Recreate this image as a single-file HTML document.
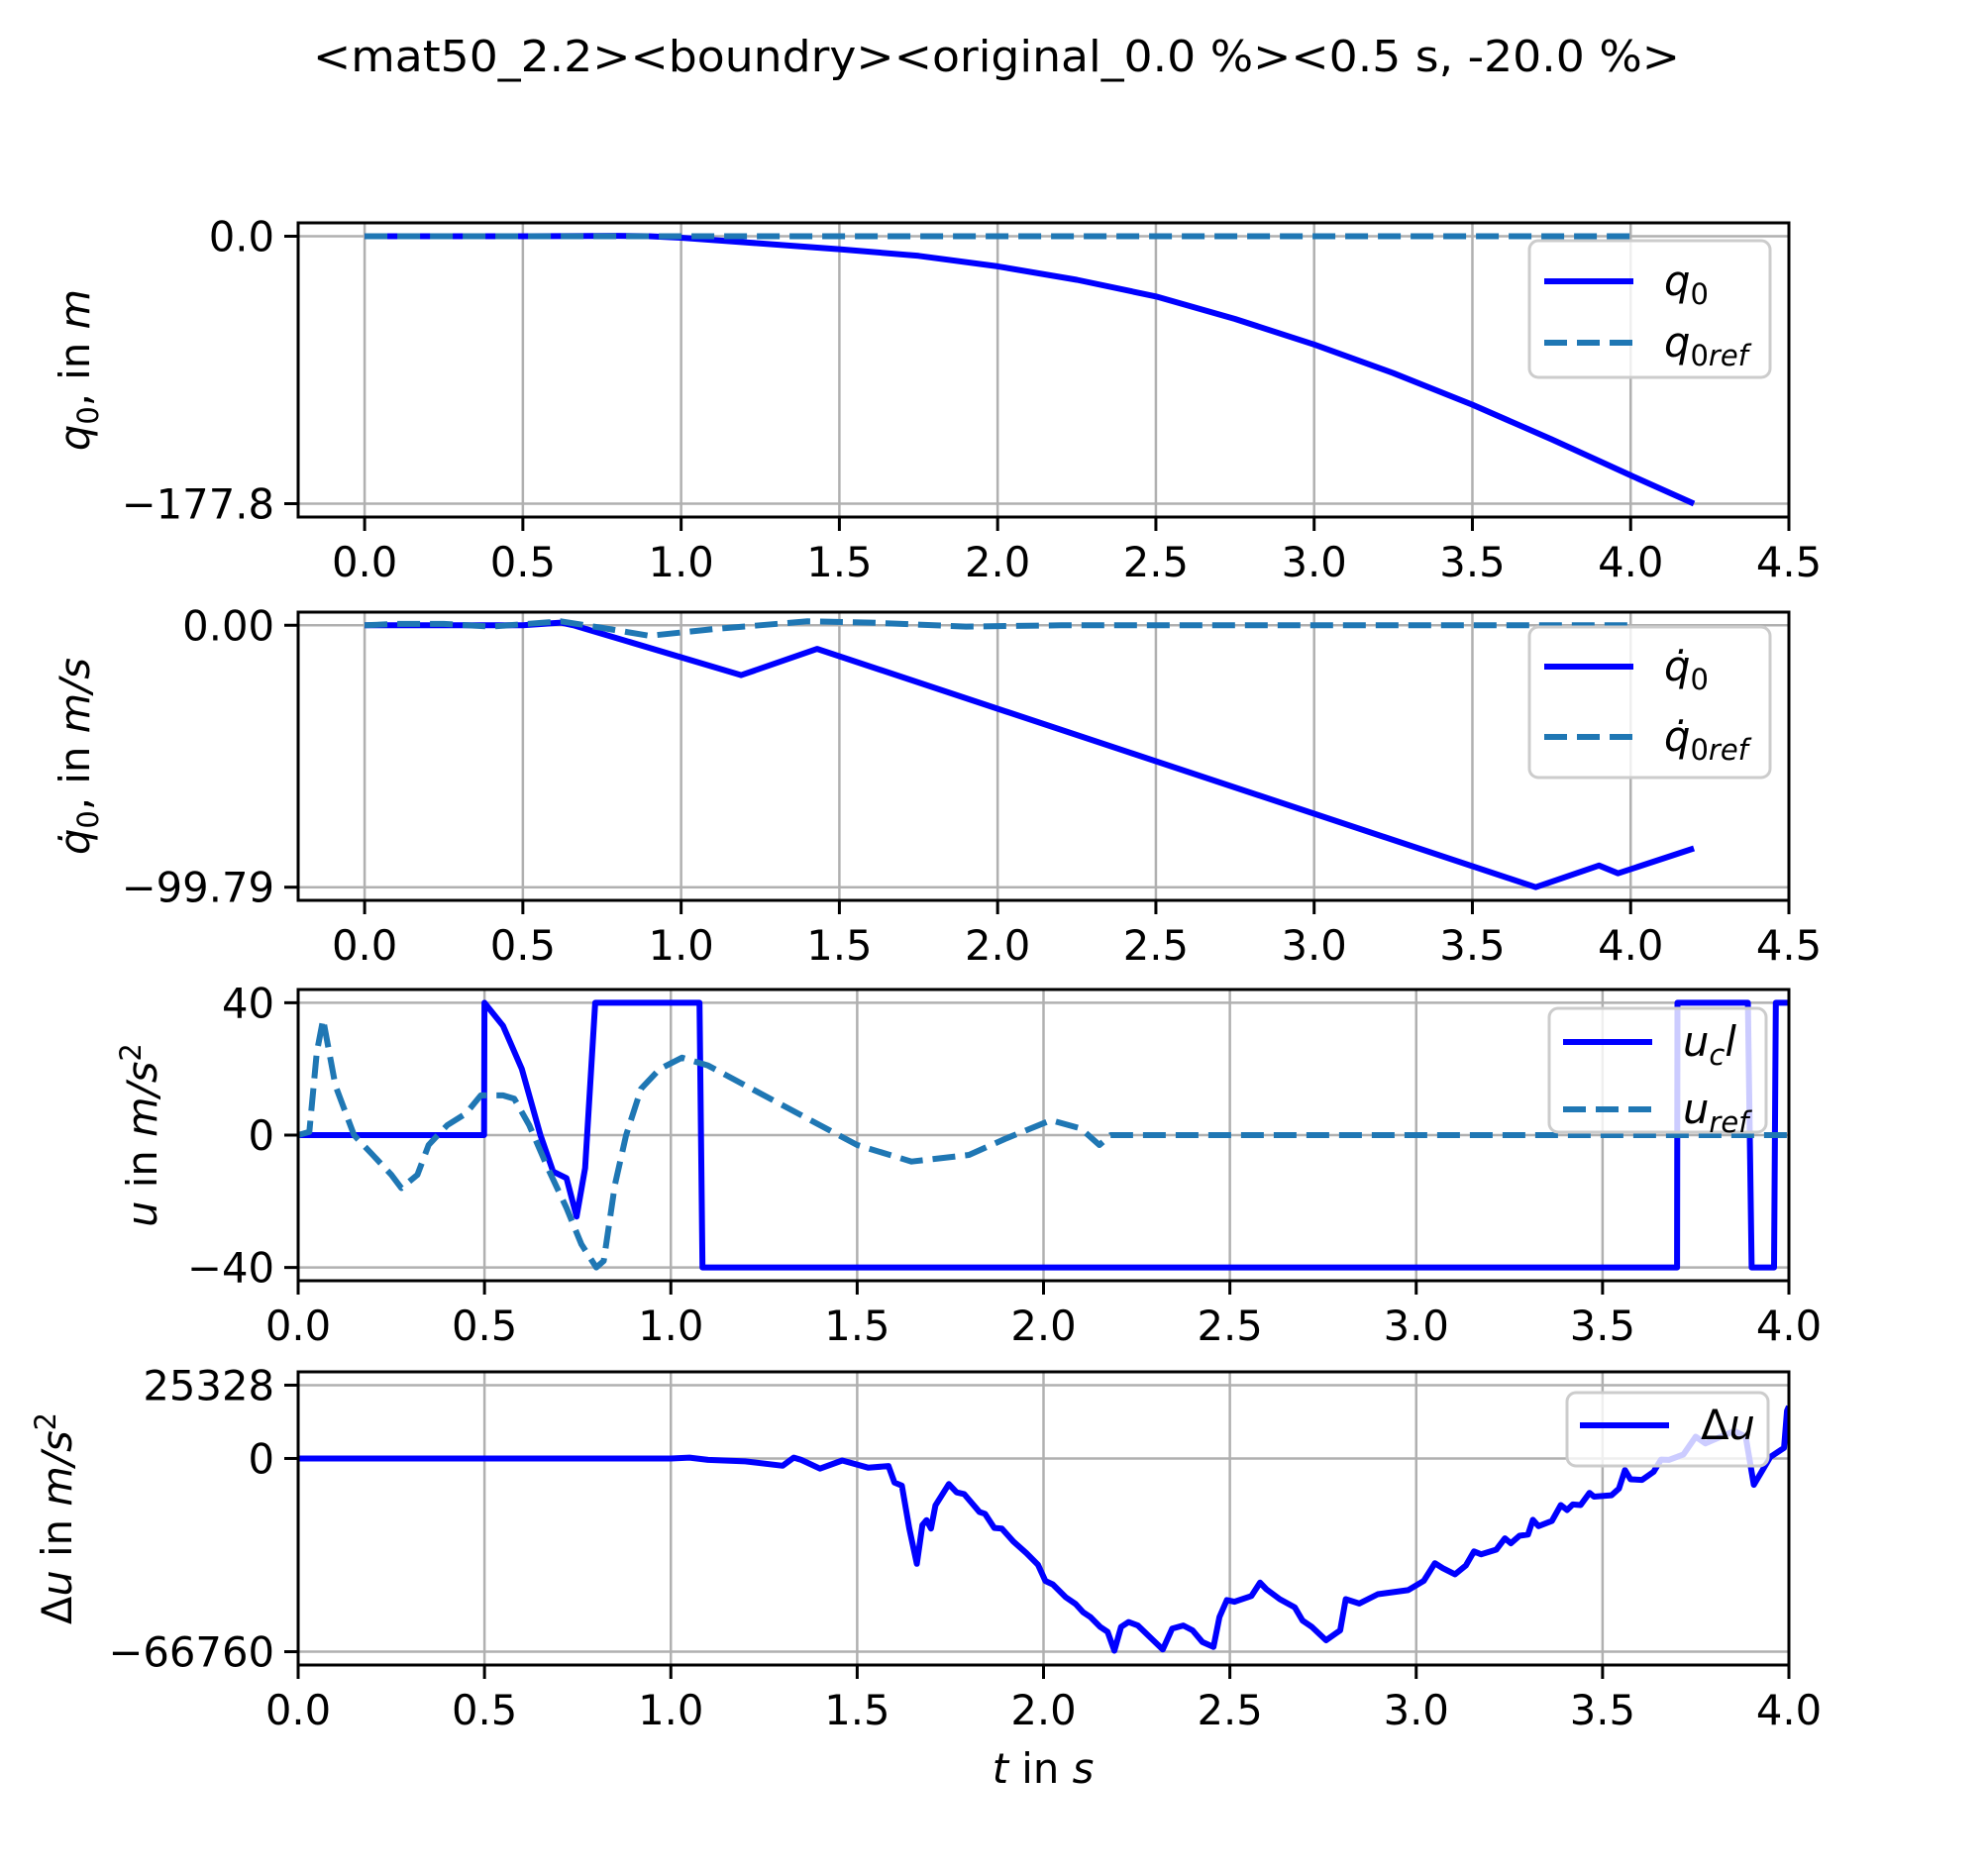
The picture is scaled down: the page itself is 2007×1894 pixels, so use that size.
<!DOCTYPE html>
<html><head><meta charset="utf-8"><style>
html,body{margin:0;padding:0;background:#fff;}
svg text{font-family:"DejaVu Sans","Liberation Sans",sans-serif;}
</style></head><body>
<svg id="fig" xmlns="http://www.w3.org/2000/svg" width="2007" height="1889" viewBox="0 0 2007 1889">
<rect width="2007" height="1889" fill="#fff"/>
<text x="1006" y="72" font-size="44" text-anchor="middle" textLength="1380" lengthAdjust="spacingAndGlyphs">&lt;mat50_2.2&gt;&lt;boundry&gt;&lt;original_0.0 %&gt;&lt;0.5 s, -20.0 %&gt;</text>
<g id="layer"></g>
</svg>
<script>
// ---- data ----
const q0T = [0,0.5,0.8,0.9,1.0,1.2,1.5,1.75,2.0,2.25,2.5,2.75,3.0,3.25,3.5,3.75,4.0,4.2];
const q0V = [0,0,0.3,0,-1,-4,-8.6,-13,-20,-29,-40,-55,-72,-91,-112,-135,-159,-177.8];
const q0refT = [0,4.0];
const q0refV = [0,0];
const dq0T = [0,0.5,0.62,0.66,1.19,1.43,3.7,3.9,3.96,4.2];
const dq0V = [0,0,1,0,-19,-9,-99.79,-91.5,-94.5,-85];
const dq0refT = [0,0.1,0.25,0.4,0.62,0.75,0.9,1.1,1.4,1.6,1.9,2.2,4.0];
const dq0refV = [0,0.5,0.5,-0.5,1.5,-1,-4,-1.5,1.5,1,-0.5,0,0];
const uclT = [0,0.499,0.5,0.55,0.6,0.65,0.684,0.72,0.747,0.77,0.797,1.077,1.085,3.7,3.701,3.89,3.9,3.96,3.965,4.0];
const uclV = [0,0,40,33,20,0,-11,-13,-24.6,-10,40,40,-40,-40,40,40,-40,-40,40,40];
const urefT = [0,0.03,0.05,0.067,0.1,0.15,0.2,0.25,0.277,0.32,0.35,0.4,0.45,0.49,0.55,0.58,0.62,0.67,0.72,0.76,0.8,0.82,0.85,0.88,0.92,0.97,1.03,1.1,1.2,1.3,1.4,1.5,1.646,1.8,1.9,2.02,2.1,2.15,2.18,4.0];
const urefV = [0,1,25,35,15,0,-6,-12,-16,-12,-3,3,6.5,12,12,11,3,-10,-22,-33,-40,-38,-15,0,14,20,23.4,21,15,9,3,-3,-8,-6,-1,4.5,2,-3,0,0];
const duT = [0,1.0,1.05,1.1,1.2,1.3,1.33,1.35,1.4,1.46,1.53,1.584,1.6,1.62,1.64,1.66,1.675,1.686,1.698,1.71,1.746,1.767,1.787,1.828,1.843,1.868,1.888,1.919,1.954,1.985,2.005,2.025,2.06,2.086,2.106,2.126,2.152,2.172,2.19,2.208,2.228,2.253,2.32,2.345,2.375,2.4,2.426,2.456,2.472,2.492,2.512,2.558,2.581,2.598,2.634,2.674,2.695,2.72,2.758,2.796,2.811,2.847,2.897,2.978,3.02,3.05,3.071,3.104,3.133,3.155,3.174,3.215,3.238,3.254,3.277,3.3,3.313,3.328,3.364,3.388,3.405,3.42,3.441,3.465,3.477,3.524,3.544,3.56,3.575,3.606,3.637,3.657,3.678,3.717,3.75,3.776,3.853,3.884,3.906,3.95,3.987,3.995,4.0];
const duV = [0,0,300,-500,-1000,-2500,300,-500,-3500,-680,-3180,-2600,-8300,-9400,-24200,-36400,-23000,-21300,-24200,-16200,-8850,-11700,-12300,-18500,-19100,-24000,-24200,-28700,-32700,-36700,-42300,-43500,-48000,-50300,-53100,-54800,-58200,-59900,-66400,-58200,-56500,-57700,-66000,-58800,-57700,-59400,-63400,-65100,-54800,-48900,-49500,-47500,-42900,-45200,-48600,-51400,-56000,-58200,-62800,-59400,-48600,-50100,-46900,-45500,-42300,-36200,-37900,-40000,-37000,-32100,-33100,-31500,-27600,-29300,-26700,-26300,-21200,-23400,-21600,-16100,-17800,-15900,-16100,-11900,-13200,-12700,-10400,-4000,-7200,-7400,-4600,-400,-500,1400,7500,5200,9500,7500,-9100,500,3700,16500,18000];
const xTicks12 = [0,0.5,1.0,1.5,2.0,2.5,3.0,3.5,4.0,4.5];
const xTicks34 = [0,0.5,1.0,1.5,2.0,2.5,3.0,3.5,4.0];
const yTicks1 = [0,-177.8]; const yLab1 = ["0.0","\u2212177.8"];
const yTicks2 = [0,-99.79]; const yLab2 = ["0.00","\u221299.79"];
const yTicks3 = [40,0,-40]; const yLab3 = ["40","0","\u221240"];
const yTicks4 = [25328,0,-66760]; const yLab4 = ["25328","0","\u221266760"];

const NS="http://www.w3.org/2000/svg";
const layer=document.getElementById('layer');
function mk(tag,attrs,parent){const e=document.createElementNS(NS,tag);for(const k in attrs)e.setAttribute(k,attrs[k]);(parent||layer).appendChild(e);return e;}
const BLUE="#0000ff", TAB="#1f77b4", FS=41.7;

function axes(cfg){
  const g=mk('g',{});
  
  
  const L=cfg.L,R=cfg.R,T=cfg.T,B=cfg.B;
  const sx=t=>L+(t-cfg.x0)/(cfg.x1-cfg.x0)*(R-L);
  const sy=v=>B-(v-cfg.y0)/(cfg.y1-cfg.y0)*(B-T);
  const clip=mk('clipPath',{id:'c'+cfg.name},g);
  mk('rect',{x:L,y:T,width:R-L,height:B-T},clip);
  cfg.xt.forEach(t=>{const l=mk('line',{x1:sx(t),x2:sx(t),y1:T,y2:B,stroke:'#b0b0b0','stroke-width':2.5},g);});
  cfg.yt.forEach(v=>{const l=mk('line',{x1:L,x2:R,y1:sy(v),y2:sy(v),stroke:'#b0b0b0','stroke-width':2.5},g);});
  cfg.series.forEach(s=>{
    let d='';s.t.forEach((t,i)=>{d+=(i?'L':'M')+sx(t).toFixed(1)+','+sy(s.v[i]).toFixed(1);});
    const p=mk('path',{d:d,fill:'none',stroke:s.c,'stroke-width':6,'stroke-linejoin':'round','clip-path':'url(#c'+cfg.name+')'},g);
    if(s.dash)p.setAttribute('stroke-dasharray','23,10');
    
    
  });
  const sp=mk('rect',{x:L,y:T,width:R-L,height:B-T,fill:'none',stroke:'#000','stroke-width':3},g);
  
  cfg.xt.forEach(t=>{mk('line',{x1:sx(t),x2:sx(t),y1:B,y2:B+14,stroke:'#000','stroke-width':3},g);
    const tx=mk('text',{x:sx(t),y:B+60,'font-size':FS,'text-anchor':'middle'},g);tx.textContent=t.toFixed(1);
    });
  cfg.yt.forEach((v,i)=>{mk('line',{x1:L-14,x2:L,y1:sy(v),y2:sy(v),stroke:'#000','stroke-width':3},g);
    const tx=mk('text',{x:L-24,y:sy(v)+15,'font-size':FS,'text-anchor':'end'},g);tx.textContent=cfg.yl[i];
    });
  const yl=mk('text',{x:0,y:0,'font-size':FS,'text-anchor':'middle',transform:'translate('+cfg.ylx+','+((T+B)/2)+') rotate(-90)'},g);
  yl.innerHTML=cfg.ylabel;
  
  const lg=mk('g',{},g);
  
  const b=cfg.leg;
  mk('rect',{x:b.x,y:b.y,width:b.w,height:b.h,rx:9,fill:'#fff','fill-opacity':0.8,stroke:'#cccccc','stroke-width':3},lg);
  b.items.forEach(it=>{
    const e=mk('g',{},lg);
    
    const ln=mk('line',{x1:b.lx,x2:b.lx+90,y1:it.y,y2:it.y,stroke:it.c,'stroke-width':6},e);
    if(it.dash)ln.setAttribute('stroke-dasharray','23,10');
    const tx=mk('text',{x:b.tx,y:it.y+14,'font-size':FS},e);tx.innerHTML=it.label;
  });
}
const I=s=>'<tspan font-style="italic">'+s+'</tspan>';
const SUB=s=>'<tspan font-size="29" dy="9">'+s+'</tspan>';
axes({name:'q0-plot',L:301,R:1806,T:225,B:522,x0:-0.21,x1:4.5,y0:-186.7,y1:8.9,xt:xTicks12,yt:yTicks1,yl:yLab1,ylx:90,
  ylabel:I('q')+SUB('0')+'<tspan dy="-9">, in </tspan>'+I('m'),
  series:[{t:q0T,v:q0V,c:BLUE,name:'q0-line'},{t:q0refT,v:q0refV,c:TAB,dash:1,name:'q0ref-line'}],
  leg:{x:1544,y:243,w:243,h:138,lx:1559,tx:1680,items:[{y:284,c:BLUE,label:I('q')+SUB('0')},{y:346,c:TAB,dash:1,label:I('q')+SUB('0'+'<tspan font-style="italic">ref</tspan>')}]}});
axes({name:'q0dot-plot',L:301,R:1806,T:618,B:909,x0:-0.21,x1:4.5,y0:-104.8,y1:5,xt:xTicks12,yt:yTicks2,yl:yLab2,ylx:90,
  ylabel:I('q̇')+SUB('0')+'<tspan dy="-9">,  in </tspan>'+I('m/s'),
  series:[{t:dq0T,v:dq0V,c:BLUE,name:'q0dot-line'},{t:dq0refT,v:dq0refV,c:TAB,dash:1,name:'q0dotref-line'}],
  leg:{x:1544,y:633,w:243,h:152,lx:1559,tx:1680,items:[{y:673,c:BLUE,label:I('q̇')+SUB('0')},{y:744,c:TAB,dash:1,label:I('q̇')+SUB('0'+'<tspan font-style="italic">ref</tspan>')}]}});
axes({name:'u-plot',L:301,R:1806,T:999,B:1293,x0:0,x1:4,y0:-44,y1:44,xt:xTicks34,yt:yTicks3,yl:yLab3,ylx:158,
  ylabel:I('u')+' in '+I('m/s')+'<tspan font-size="29" dy="-16">2</tspan>',
  series:[{t:uclT,v:uclV,c:BLUE,name:'ucl-line'},{t:urefT,v:urefV,c:TAB,dash:1,name:'uref-line'}],
  leg:{x:1564,y:1018,w:219,h:125,lx:1578,tx:1699,items:[{y:1052,c:BLUE,label:I('u')+SUB('<tspan font-style="italic">c</tspan>')+'<tspan dy="-9" font-style="italic">l</tspan>'},{y:1120,c:TAB,dash:1,label:I('u')+SUB('<tspan font-style="italic">ref</tspan>')}]}});
axes({name:'du-plot',L:301,R:1806,T:1385,B:1681,x0:0,x1:4,y0:-71364,y1:29932,xt:xTicks34,yt:yTicks4,yl:yLab4,ylx:72,
  ylabel:'Δ'+I('u')+' in '+I('m/s')+'<tspan font-size="29" dy="-16">2</tspan>',
  series:[{t:duT,v:duV,c:BLUE,name:'du-line'}],
  leg:{x:1582,y:1406,w:203,h:74,lx:1595,tx:1717,items:[{y:1439,c:BLUE,label:'Δ'+I('u')}]}});
const xl=mk('text',{x:1053,y:1800,'font-size':FS,'text-anchor':'middle'});
xl.innerHTML=I('t')+' in '+I('s');


</script>
</body></html>
